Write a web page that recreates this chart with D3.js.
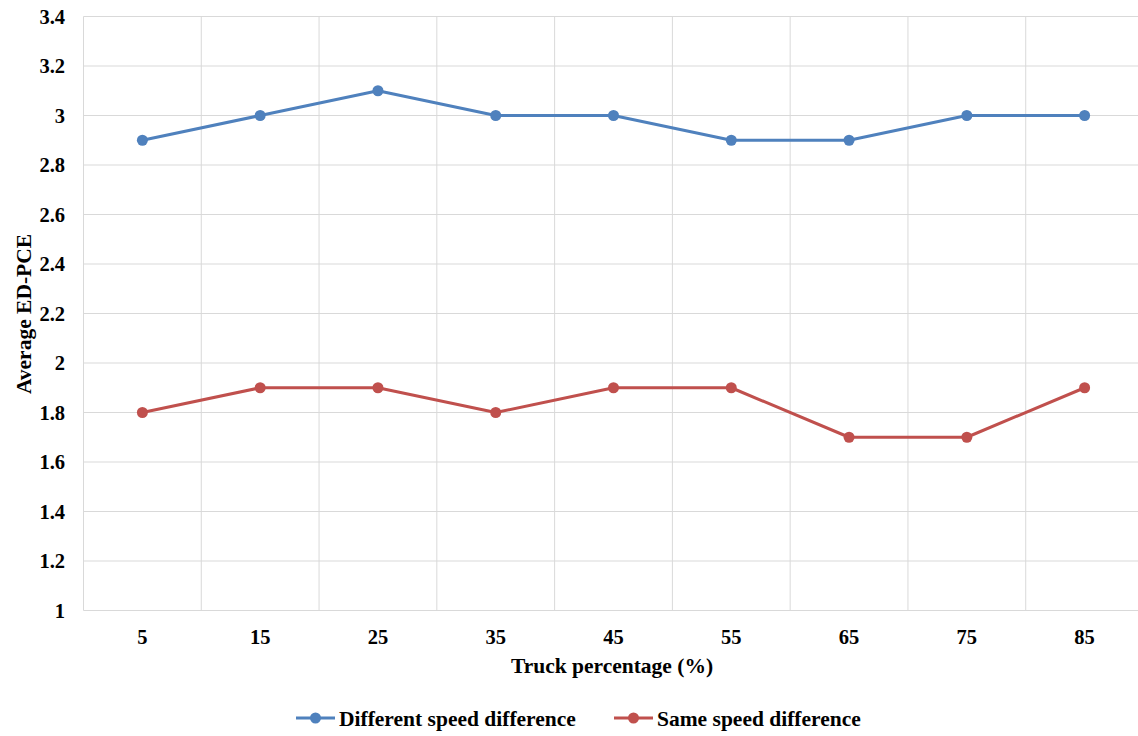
<!DOCTYPE html>
<html><head><meta charset="utf-8">
<script src="https://cdn.jsdelivr.net/npm/d3@7"></script>
<style>body{margin:0;background:#fff}svg{display:block}text{font-family:"Liberation Serif","Times New Roman",serif;font-weight:bold;fill:#000}</style>
</head><body>
<script>
const categories = ["5","15","25","35","45","55","65","75","85"];
const differentSpeed = [2.9,3.0,3.1,3.0,3.0,2.9,2.9,3.0,3.0];
const sameSpeed = [1.8,1.9,1.9,1.8,1.9,1.9,1.7,1.7,1.9];
const yTicks = [1,1.2,1.4,1.6,1.8,2,2.2,2.4,2.6,2.8,3,3.2,3.4];
const seriesNames = ["Different speed difference","Same speed difference"];
const colors = ["#4F81BD","#C0504D"];

const W=1138,H=736;
const svg=d3.select("body").append("svg").attr("width",W).attr("height",H);
const pL=83.5, pR=1143.5, pT=16.5, pB=610.5;
const x=d3.scaleBand().domain(categories).range([pL,pR]);
const y=d3.scaleLinear().domain([1,3.4]).range([pB,pT]);

svg.append("g").selectAll("line").data(yTicks).join("line")
  .attr("x1",pL).attr("x2",pR).attr("y1",d=>y(d)).attr("y2",d=>y(d))
  .attr("stroke","#d9d9d9").attr("stroke-width",1);
const bounds = categories.map(c=>x(c)).concat([x(categories[categories.length-1])+x.bandwidth()]);
svg.append("g").selectAll("line").data(bounds).join("line")
  .attr("x1",d=>d).attr("x2",d=>d).attr("y1",pT).attr("y2",pB)
  .attr("stroke","#d9d9d9").attr("stroke-width",1);

svg.append("g").selectAll("text").data(yTicks).join("text")
  .attr("x",65).attr("y",d=>y(d)).attr("dy","0.35em").attr("text-anchor","end")
  .attr("font-size",20.5).text(d=>d3.format("~g")(d));
svg.append("g").selectAll("text").data(categories).join("text")
  .attr("x",d=>x(d)+x.bandwidth()/2).attr("y",637).attr("dy","0.35em").attr("text-anchor","middle")
  .attr("font-size",20.5).text(d=>d);

svg.append("text").attr("x",612).attr("y",665).attr("dy","0.35em").attr("text-anchor","middle")
  .attr("font-size",21.5).text("Truck percentage (%)");
svg.append("text").attr("transform","translate(23,314) rotate(-90)").attr("dy","0.35em")
  .attr("text-anchor","middle").attr("font-size",21.5).text("Average ED-PCE");

const line=d3.line().x((d,i)=>x(categories[i])+x.bandwidth()/2).y(d=>y(d));
[differentSpeed,sameSpeed].forEach((s,k)=>{
  svg.append("path").datum(s).attr("d",line).attr("fill","none")
    .attr("stroke",colors[k]).attr("stroke-width",3).attr("stroke-linejoin","round");
  svg.append("g").selectAll("circle").data(s).join("circle")
    .attr("cx",(d,i)=>x(categories[i])+x.bandwidth()/2).attr("cy",d=>y(d)).attr("r",5.5)
    .attr("fill",colors[k]);
});

const legX=[296,614], ly=718;
seriesNames.forEach((n,k)=>{
  const g=svg.append("g");
  g.append("line").attr("x1",legX[k]).attr("x2",legX[k]+39).attr("y1",ly).attr("y2",ly)
    .attr("stroke",colors[k]).attr("stroke-width",3);
  g.append("circle").attr("cx",legX[k]+19.5).attr("cy",ly).attr("r",5.5).attr("fill",colors[k]);
  g.append("text").attr("x",legX[k]+43).attr("y",ly).attr("dy","0.35em").attr("font-size",21.5).text(n);
});
</script>
</body></html>
